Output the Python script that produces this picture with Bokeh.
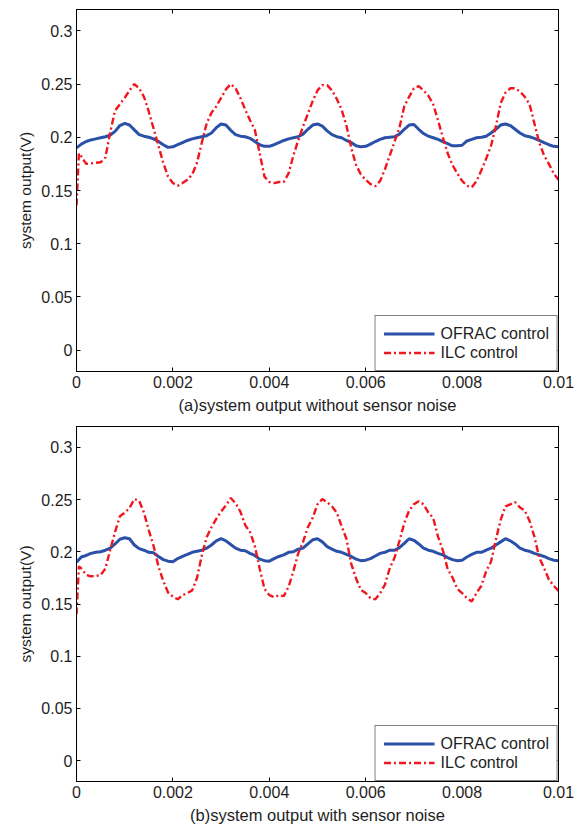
from bokeh.plotting import figure
from bokeh.layouts import column
from bokeh.models import LinearAxis, FixedTicker, Range1d, Legend, LegendItem
from bokeh.embed import file_html
from bokeh.resources import INLINE

# ---------------- data ----------------
t_grid = [round(i * 0.0001, 4) for i in range(101)]
t_red = [0.0, 0.00005] + t_grid[1:]

x_ticks = [0.0, 0.002, 0.004, 0.006, 0.008, 0.01]
x_tick_labels = ["0", "0.002", "0.004", "0.006", "0.008", "0.01"]
y_ticks = [0.0, 0.05, 0.1, 0.15, 0.2, 0.25, 0.3]
y_tick_labels = ["0", "0.05", "0.1", "0.15", "0.2", "0.25", "0.3"]

series_names = ["OFRAC control", "ILC control"]
panel_titles = ["(a)system output without sensor noise", "(b)system output with sensor noise"]
y_title = "system output(V)"

# (a) without sensor noise
ofrac_a = [0.190, 0.1935, 0.196, 0.1975, 0.1985, 0.1995, 0.2005, 0.202, 0.2055, 0.211,
           0.213, 0.2115, 0.207, 0.2025, 0.201, 0.200, 0.1985, 0.196, 0.193, 0.1905,
           0.191, 0.193, 0.195, 0.197, 0.1985, 0.1995, 0.2005, 0.2015, 0.204, 0.209,
           0.2125, 0.2115, 0.2065, 0.2025, 0.201, 0.2005, 0.199, 0.196, 0.193, 0.1915,
           0.1915, 0.193, 0.195, 0.197, 0.1985, 0.1995, 0.2005, 0.203, 0.2075, 0.2115,
           0.2125, 0.2105, 0.206, 0.2025, 0.2005, 0.1995, 0.197, 0.195, 0.192, 0.191,
           0.1915, 0.1935, 0.196, 0.198, 0.1995, 0.200, 0.2005, 0.203, 0.2075, 0.2115,
           0.212, 0.2075, 0.2035, 0.201, 0.1995, 0.198, 0.196, 0.194, 0.192, 0.192,
           0.1925, 0.1965, 0.198, 0.1995, 0.200, 0.201, 0.204, 0.2075, 0.2115, 0.2125,
           0.211, 0.2075, 0.204, 0.2015, 0.2005, 0.199, 0.197, 0.195, 0.193, 0.1915,
           0.191]
ilc_a = [0.136, 0.185,
         0.182, 0.175, 0.1755, 0.176, 0.1765, 0.181, 0.205, 0.225, 0.231, 0.237,
         0.244, 0.250, 0.246, 0.238, 0.224, 0.208, 0.192, 0.176, 0.163, 0.157,
         0.1545, 0.157, 0.160, 0.165, 0.176, 0.195, 0.213, 0.223, 0.229, 0.237,
         0.245, 0.250, 0.246, 0.237, 0.226, 0.216, 0.207, 0.185, 0.163, 0.158,
         0.157, 0.158, 0.158, 0.166, 0.183, 0.197, 0.210, 0.222, 0.234, 0.244,
         0.249, 0.249, 0.244, 0.236, 0.226, 0.211, 0.190, 0.174, 0.165, 0.160,
         0.156, 0.154, 0.159, 0.170, 0.183, 0.196, 0.209, 0.229, 0.238, 0.246,
         0.248, 0.244, 0.239, 0.231, 0.216, 0.200, 0.185, 0.174, 0.166, 0.159,
         0.1545, 0.153, 0.159, 0.169, 0.180, 0.192, 0.210, 0.232, 0.242, 0.246,
         0.246, 0.243, 0.238, 0.231, 0.213, 0.195, 0.183, 0.175, 0.166, 0.160]

# (b) with sensor noise
ofrac_b = [0.190, 0.195, 0.1965, 0.1985, 0.1995, 0.200, 0.2015, 0.2035, 0.2075, 0.212,
           0.2135, 0.2125, 0.2065, 0.203, 0.2015, 0.1995, 0.199, 0.1955, 0.1925, 0.191,
           0.1905, 0.1935, 0.1955, 0.1975, 0.1995, 0.2005, 0.2015, 0.2035, 0.2065, 0.2105,
           0.2125, 0.2105, 0.207, 0.2035, 0.2015, 0.201, 0.1985, 0.1965, 0.193, 0.1915,
           0.191, 0.1935, 0.1955, 0.197, 0.1995, 0.200, 0.2025, 0.2035, 0.2075, 0.2115,
           0.2125, 0.2095, 0.205, 0.2025, 0.2005, 0.1995, 0.1975, 0.1955, 0.193, 0.1915,
           0.192, 0.1935, 0.196, 0.1985, 0.1995, 0.2015, 0.2015, 0.204, 0.208, 0.2125,
           0.211, 0.2075, 0.2035, 0.2015, 0.2005, 0.1985, 0.197, 0.1945, 0.1925, 0.1915,
           0.192, 0.195, 0.1975, 0.1995, 0.1995, 0.2015, 0.2035, 0.2065, 0.2095, 0.2125,
           0.2105, 0.2075, 0.2035, 0.2015, 0.2005, 0.1985, 0.197, 0.1955, 0.1935, 0.192,
           0.1915]
ilc_b = [0.140, 0.186,
         0.184, 0.178, 0.1765, 0.177, 0.1775, 0.184, 0.202, 0.219, 0.234, 0.2375,
         0.242, 0.2505, 0.249, 0.2375, 0.2205, 0.2055, 0.186, 0.172, 0.161, 0.157,
         0.1545, 0.1585, 0.1605, 0.163, 0.175, 0.1965, 0.214, 0.2235, 0.2315, 0.2385,
         0.2445, 0.2515, 0.2465, 0.2385, 0.2255, 0.219, 0.2055, 0.184, 0.1645, 0.1585,
         0.1565, 0.1585, 0.1575, 0.1665, 0.1815, 0.1985, 0.2095, 0.2235, 0.2325, 0.2455,
         0.2505, 0.2475, 0.2435, 0.2375, 0.2245, 0.2125, 0.1885, 0.1745, 0.1635, 0.1605,
         0.1555, 0.1545, 0.1605, 0.1685, 0.1845, 0.1945, 0.2105, 0.2275, 0.2395, 0.2455,
         0.2485, 0.2455, 0.2375, 0.2325, 0.2145, 0.2015, 0.1835, 0.1755, 0.1645, 0.1605,
         0.1555, 0.1525, 0.1605, 0.1675, 0.1815, 0.1905, 0.2115, 0.2305, 0.2435, 0.2455,
         0.2475, 0.2425, 0.2395, 0.2295, 0.2145, 0.1945, 0.1845, 0.1735, 0.1675, 0.1625]

# ---------------- style ----------------
FONT = "Liberation Sans"
BLUE = "#2a50a8"
RED = "#f0161e"
TXT = "#1e1e1e"
x_over = {float(k): v for k, v in zip(x_ticks, x_tick_labels)}
y_over = {float(k): v for k, v in zip(y_ticks, y_tick_labels)}


def style_axis(ax, labels=True, title_size="15.5px"):
    ax.axis_line_color = "black"
    ax.axis_line_width = 1
    ax.major_tick_line_color = "black"
    ax.major_tick_in = 4
    ax.major_tick_out = 0
    ax.minor_tick_line_color = None
    if labels:
        ax.major_label_text_font = FONT
        ax.major_label_text_font_size = "16px"
        ax.major_label_text_color = TXT
        ax.axis_label_text_font = FONT
        ax.axis_label_text_font_size = title_size
        ax.axis_label_text_font_style = "normal"
        ax.axis_label_text_color = TXT
    else:
        ax.major_label_text_font_size = "1px"
        ax.major_label_text_color = None
        ax.major_label_standoff = 0


def make_fig(blue, red, title, height, top, bottom):
    p = figure(width=579, height=height, x_range=Range1d(0, 0.01),
               y_range=Range1d(-0.02, 0.32), output_backend="svg",
               toolbar_location=None, min_border_left=76, min_border_right=21,
               min_border_top=top, min_border_bottom=bottom)
    p.xgrid.visible = False
    p.ygrid.visible = False
    p.outline_line_color = "black"
    p.background_fill_color = "white"
    p.border_fill_color = "white"

    p.xaxis.ticker = FixedTicker(ticks=x_ticks)
    p.xaxis.major_label_overrides = x_over
    p.xaxis.axis_label = title
    p.xaxis.major_label_standoff = 4
    p.xaxis.axis_label_standoff = 5
    p.yaxis.ticker = FixedTicker(ticks=y_ticks)
    p.yaxis.major_label_overrides = y_over
    p.yaxis.axis_label = y_title
    p.yaxis.major_label_standoff = 4
    p.yaxis.axis_label_standoff = 4
    style_axis(p.xaxis[0], title_size="16.5px")
    style_axis(p.yaxis[0], title_size="15.5px")

    top_ax = LinearAxis(ticker=FixedTicker(ticks=x_ticks))
    right_ax = LinearAxis(ticker=FixedTicker(ticks=y_ticks))
    style_axis(top_ax, labels=False)
    style_axis(right_ax, labels=False)
    p.add_layout(top_ax, "above")
    p.add_layout(right_ax, "right")

    r1 = p.line(t_grid, blue, line_color=BLUE, line_width=3)
    r2 = p.line(t_red, red, line_color=RED, line_width=2.4, line_dash="7 3 2 3")

    leg = Legend(items=[LegendItem(label=series_names[0], renderers=[r1]),
                        LegendItem(label=series_names[1], renderers=[r2])],
                 location="bottom_right", margin=0, padding=8, spacing=0,
                 glyph_width=51, glyph_height=19, label_height=19,
                 label_standoff=6, label_text_font=FONT,
                 label_text_font_size="16px", label_text_color=TXT,
                 border_line_color="black", border_line_width=1,
                 background_fill_color="white", background_fill_alpha=1)
    p.add_layout(leg)
    return p


p1 = make_fig(ofrac_a, ilc_a, panel_titles[0], 416, 9, 45)
p2 = make_fig(ofrac_b, ilc_b, panel_titles[1], 415, 10, 50)
layout = column(p1, p2, spacing=0)

open("out.html", "w").write(file_html(layout, INLINE))
